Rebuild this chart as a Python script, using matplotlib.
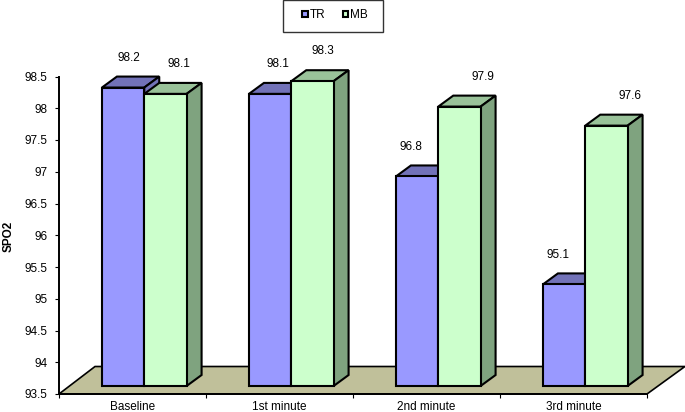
import matplotlib

matplotlib.use("Agg")
import matplotlib.pyplot as plt
from matplotlib.patches import Patch, Rectangle

plt.rcParams["font.family"] = ["Liberation Sans", "DejaVu Sans"]
plt.rcParams["font.size"] = 8.5

categories = ["Baseline", "1st minute", "2nd minute", "3rd minute"]
tr_values = [98.2, 98.1, 96.8, 95.1]
mb_values = [98.1, 98.3, 97.9, 97.6]
y_ticks = [93.5, 94, 94.5, 95, 95.5, 96, 96.5, 97, 97.5, 98, 98.5]
y_tick_labels = ["93.5", "94", "94.5", "95", "95.5", "96", "96.5", "97", "97.5", "98", "98.5"]

# Fake 3D look, all in data units
Y_MIN = 93.5
Y_MAX = 98.5
BAR_W = 0.288
DEPTH_X = 0.102
DEPTH_Y = 0.173
LIFT = 0.126
GROUP_SHIFT = 0.08
LW = 1.5

TR_COLORS = ("#9999ff", "#7272b8", "#7272b8")
MB_COLORS = ("#ccffcc", "#99c299", "#7fa37f")

# label offsets from the top of each bar, x in data units, y in value units
TR_LABEL_DX = [0.04, 0.05, -0.04, -0.04]
MB_LABEL_DX = [0.09, 0.07, 0.16, 0.16]
LABEL_DY = 0.47

W, H = 685, 412
fig = plt.figure(figsize=(W / 100, H / 100), dpi=100)
ax = fig.add_axes([59 / W, 1 - 394 / H, 588 / W, 317.5 / H])
ax.set_xlim(0, 4)
ax.set_ylim(Y_MIN, Y_MAX)


def draw_bar(x, value, colors, zorder):
    """Draw one bar with its top and side faces, lifted off the floor edge."""
    front, top, side = colors
    base = Y_MIN + LIFT
    y_top = value + LIFT
    right = x + BAR_W
    ax.fill(
        [x, x + DEPTH_X, right + DEPTH_X, right],
        [y_top, y_top + DEPTH_Y, y_top + DEPTH_Y, y_top],
        facecolor=top, edgecolor="black", lw=LW, clip_on=False, zorder=zorder,
    )
    ax.fill(
        [right, right + DEPTH_X, right + DEPTH_X, right],
        [base, base + DEPTH_Y, y_top + DEPTH_Y, y_top],
        facecolor=side, edgecolor="black", lw=LW, clip_on=False, zorder=zorder,
    )
    ax.bar(
        x, value - Y_MIN, bottom=base, width=BAR_W, align="edge",
        color=front, edgecolor="black", lw=LW, clip_on=False, zorder=zorder,
    )


# Floor
ax.fill(
    [0, 0.245, 4.258, 4.0],
    [Y_MIN, Y_MIN + 0.433, Y_MIN + 0.433, Y_MIN],
    facecolor="#c0c09a", edgecolor="black", lw=1.2, clip_on=False, zorder=1,
)

for i, category in enumerate(categories):
    x_mid = i + 0.5 + GROUP_SHIFT
    draw_bar(x_mid - BAR_W, tr_values[i], TR_COLORS, 3 + i * 2)
    draw_bar(x_mid, mb_values[i], MB_COLORS, 4 + i * 2)
    ax.text(
        x_mid - BAR_W / 2 + TR_LABEL_DX[i], tr_values[i] + LIFT + LABEL_DY,
        f"{tr_values[i]:.1f}", ha="center", va="center", clip_on=False,
    )
    ax.text(
        x_mid + BAR_W / 2 + MB_LABEL_DX[i], mb_values[i] + LIFT + LABEL_DY,
        f"{mb_values[i]:.1f}", ha="center", va="center", clip_on=False,
    )

for side in ["top", "right"]:
    ax.spines[side].set_visible(False)
ax.spines["left"].set_linewidth(1.4)
ax.spines["bottom"].set_linewidth(1.4)
ax.spines["left"].set_zorder(20)
ax.spines["bottom"].set_zorder(20)

ax.set_yticks(y_ticks, y_tick_labels)
ax.tick_params(axis="y", length=3, width=0.8, pad=5.5)
ax.set_xticks(range(5), [""] * 5)
ax.set_xticks([i + 0.5 for i in range(4)], categories, minor=True)
ax.tick_params(axis="x", which="major", length=3, width=0.8)
ax.tick_params(axis="x", which="minor", length=0, pad=5)

fig.text(9 / W, 1 - 236 / H, "SPO2", rotation=90, fontweight="bold", ha="center", va="center")

# Legend box is off-centre around its entries, so draw the frame separately
fig.add_artist(
    Rectangle(
        (283 / W, 1 - 32 / H), 100 / W, 32 / H, transform=fig.transFigure,
        facecolor="white", edgecolor="#333333", lw=1.0, clip_on=False,
    )
)
fig.legend(
    handles=[
        Patch(facecolor=TR_COLORS[0], edgecolor="black", lw=1.5, label="TR"),
        Patch(facecolor=MB_COLORS[0], edgecolor="black", lw=1.5, label="MB"),
    ],
    loc="center",
    bbox_to_anchor=(335 / W, 1 - 15.5 / H),
    ncols=2,
    handlelength=0.45,
    handleheight=0.45,
    handletextpad=0.15,
    columnspacing=1.5,
    borderpad=0,
    borderaxespad=0,
    frameon=False,
)

fig.savefig("out.png", dpi=100)
